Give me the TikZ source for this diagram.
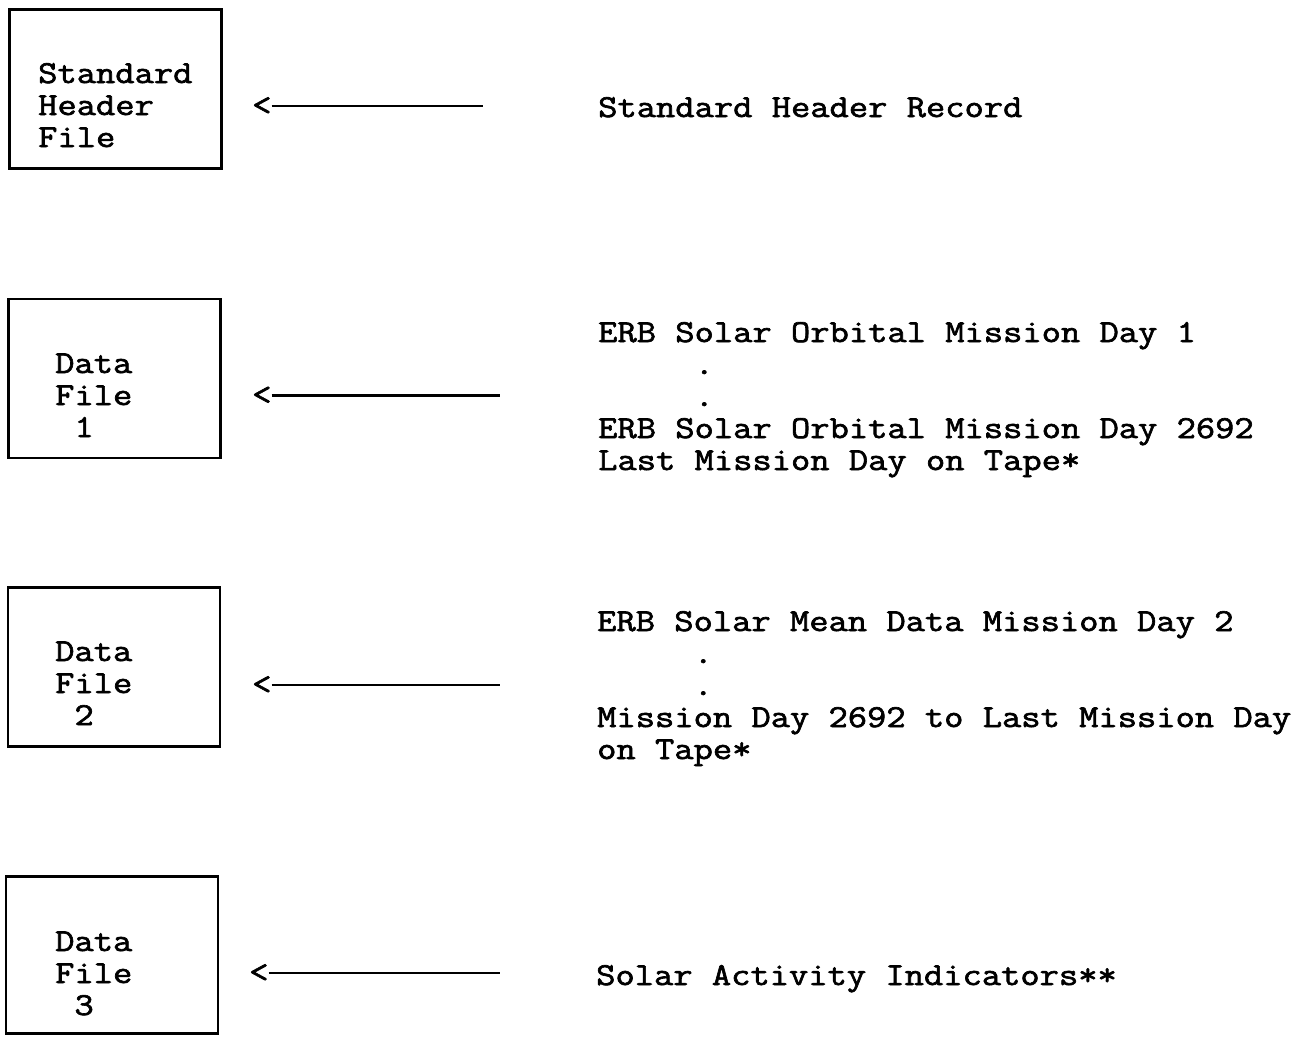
\documentclass[tikz,border=0pt]{standalone}
\usepackage{fontspec}
\setmonofont[FakeStretch=1.17,FakeBold=2]{Latin Modern Mono}
\newcommand\mylines[1]{\begin{tabular}[t]{@{}l@{}}#1\end{tabular}}
\begin{document}
\begin{tikzpicture}[x=1pt,y=-1pt,
  box/.style={draw, line width=2.6pt, inner sep=0pt, minimum width=212pt, minimum height=159pt},
  txt/.style={anchor=base west, inner sep=0pt, font=\ttfamily\fontsize{32}{32}\selectfont},
  conn/.style={line width=2.8pt}]
\useasboundingbox (0,0) rectangle (1306,1037);
% boxes
\node[box] (hdr) at (115.5,89) {};
\node[box] (f1) at (114.5,378.5) {};
\node[box] (f2) at (114,667) {};
\node[box, minimum height=157pt] (f3) at (112,955) {};
% box labels
\node[txt] (hdrlab) at (38,83) {\mylines{Standard\\Header\\File}};
\node[txt] (f1lab) at (55,373) {\mylines{Data\\File\\\phantom{x}1}};
\node[txt] (f2lab) at (55,661) {\mylines{Data\\File\\\phantom{x}2}};
\node[txt] (f3lab) at (55,951) {\mylines{Data\\File\\\phantom{x}3}};
% right texts
\node[txt] (r0) at (598,117) {Standard Header Record};
\node[txt] (r1) at (598,342) {\mylines{ERB Solar Orbital Mission Day 1\\\phantom{xxxxx}.\\\phantom{xxxxx}.\\ERB Solar Orbital Mission Day 2692\\Last Mission Day on Tape*}};
\node[txt] (r2) at (597,631) {\mylines{ERB Solar Mean Data Mission Day 2\\\phantom{xxxxx}.\\\phantom{xxxxx}.\\Mission Day 2692 to Last Mission Day\\on Tape*}};
\node[txt] (r3) at (596,985) {Solar Activity Indicators**};
% arrows
\node[txt] (lt0) at (252,115) {<};
\node[txt] (lt1) at (252,404.5) {<};
\node[txt] (lt2) at (252,694) {<};
\node[txt] (lt3) at (249,982) {<};
\coordinate (e0) at (483,106);
\coordinate (e1) at (500,395.5);
\coordinate (e2) at (500,685);
\coordinate (e3) at (500,973);
\draw[conn] (lt0.east |- e0) -- (e0);
\draw[conn] (lt1.east |- e1) -- (e1);
\draw[conn] (lt2.east |- e2) -- (e2);
\draw[conn] (lt3.east |- e3) -- (e3);
\end{tikzpicture}
\end{document}
